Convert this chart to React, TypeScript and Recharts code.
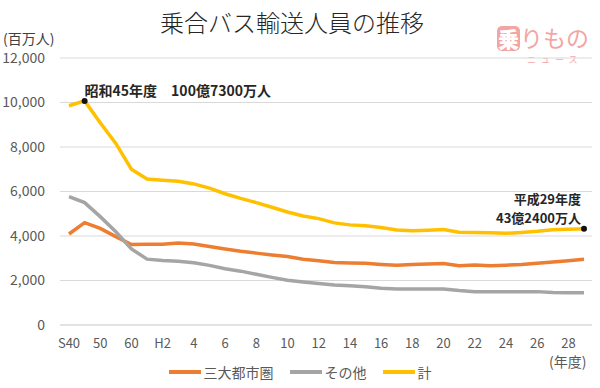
import React from "react";
import { LineChart, Line, CartesianGrid, XAxis, YAxis, Legend } from "recharts";

// 年度 (S40 .. H29)
const years = [
  "S40", "S45", "S50", "S55", "S60", "H1",
  "H2", "H3", "H4", "H5", "H6", "H7", "H8", "H9", "H10", "H11", "H12", "H13",
  "H14", "H15", "H16", "H17", "H18", "H19", "H20", "H21", "H22", "H23", "H24",
  "H25", "H26", "H27", "H28", "H29",
];
const tickLabels = [
  "S40", "", "50", "", "60", "",
  "H2", "", "4", "", "6", "", "8", "", "10", "", "12", "",
  "14", "", "16", "", "18", "", "20", "", "22", "", "24",
  "", "26", "", "28", "",
];
// 百万人
const sandaiToshiken = [
  4090, 4600, 4340, 3970, 3620, 3630, 3630, 3680, 3640, 3530, 3420, 3310, 3230,
  3150, 3080, 2960, 2890, 2810, 2790, 2770, 2720, 2680, 2720, 2740, 2760, 2660,
  2700, 2660, 2690, 2720, 2770, 2830, 2890, 2950,
];
const sonota = [
  5770, 5500, 4870, 4190, 3420, 2960, 2900, 2860, 2800, 2680, 2530, 2420, 2280,
  2140, 2010, 1930, 1860, 1800, 1760, 1720, 1650, 1620, 1620, 1620, 1620, 1550,
  1500, 1500, 1500, 1500, 1500, 1460, 1450, 1450,
];
const kei = [
  9855, 10073, 9090, 8160, 7000, 6560, 6510, 6465, 6340, 6150, 5900, 5690, 5500,
  5290, 5080, 4900, 4780, 4590, 4500, 4460, 4380, 4270, 4240, 4260, 4290, 4170,
  4160, 4150, 4120, 4160, 4210, 4280, 4300, 4324,
];
const yTicks = [0, 2000, 4000, 6000, 8000, 10000, 12000];

const rows = years.map((y, i) => ({
  year: y,
  sandai: sandaiToshiken[i],
  sonota: sonota[i],
  kei: kei[i],
}));

const FONT = "'Noto Sans CJK JP', 'Noto Sans', sans-serif";
const ORANGE = "#ED7D31";
const GRAY = "#A5A5A5";
const YELLOW = "#FFC000";

const fmt = (v: number) => String(v).replace(/\B(?=(\d{3})+(?!\d))/g, ",");

const keiDot = (p: any) => {
  const { cx, cy, index } = p;
  if (index === 1) {
    return (
      <g key="d1">
        <circle cx={cx} cy={cy} r={3} fill="#111" />
        <text x={cx} y={cy - 5} fontSize={14} fontWeight="bold" fill="#262626" fontFamily={FONT}>
          昭和45年度　100億7300万人
        </text>
      </g>
    );
  }
  if (index === years.length - 1) {
    return (
      <g key="dlast">
        <circle cx={cx} cy={cy} r={3} fill="#111" />
        <text x={cx - 3} y={cy - 25} textAnchor="end" fontSize={13} fontWeight="bold" fill="#262626" fontFamily={FONT}>
          平成29年度
        </text>
        <text x={cx - 3} y={cy - 6} textAnchor="end" fontSize={13} fontWeight="bold" fill="#262626" fontFamily={FONT}>
          43億2400万人
        </text>
      </g>
    );
  }
  return <g key={"n" + index} />;
};

const legendItems = [
  { name: "三大都市圏", color: ORANGE },
  { name: "その他", color: GRAY },
  { name: "計", color: YELLOW },
];

const renderLegend = () => (
  <div style={{ display: "flex", justifyContent: "center", alignItems: "center", gap: 16, fontSize: 14, color: "#595959", fontFamily: FONT, paddingLeft: 8, paddingTop: 5 }}>
    {legendItems.map((it) => (
      <div key={it.name} style={{ display: "flex", alignItems: "center" }}>
        <span style={{ display: "inline-block", width: 32, height: 4, background: it.color, marginRight: 3 }} />
        <span>{it.name}</span>
      </div>
    ))}
  </div>
);

export default function App() {
  return (
    <div style={{ position: "relative", width: 600, height: 388, background: "#fff", fontFamily: FONT, overflow: "hidden" }}>
      <style>{"body{margin:0}"}</style>
      <div style={{ position: "absolute", left: 0, width: 584, top: 4, textAlign: "center", fontSize: 24, fontWeight: 300, color: "#262626" }}>
        乗合バス輸送人員の推移
      </div>
      <div style={{ position: "absolute", left: 3, top: 28, fontSize: 14, color: "#404040" }}>(百万人)</div>
      <div style={{ position: "absolute", left: 497, top: 26, opacity: 0.45, lineHeight: 1, whiteSpace: "nowrap", width: 100 }}>
        <span style={{ display: "inline-block", background: "#E53935", color: "#fff", fontSize: 21, fontWeight: 900, borderRadius: 5, padding: "2px 1px" }}>乗</span>
        <span style={{ color: "#E53935", fontSize: 23, verticalAlign: "top" }}>りもの</span>
        <div style={{ position: "absolute", left: 30, top: 29, fontSize: 9, letterSpacing: 5, color: "#E53935" }}>ニュース</div>
      </div>
      <div style={{ position: "absolute", left: 549, top: 351, fontSize: 14, color: "#595959", whiteSpace: "nowrap" }}>(年度)</div>
      <LineChart width={600} height={388} data={rows} margin={{ top: 58, right: 8, left: 0, bottom: 9 }}>
        <CartesianGrid vertical={false} stroke="#D9D9D9" />
        <XAxis
          dataKey="year"
          interval={0}
          tickFormatter={(_v: string, i: number) => tickLabels[i]}
          axisLine={{ stroke: "#D9D9D9" }}
          tickLine={false}
          tickSize={0}
          tickMargin={14}
          padding={{ left: 9, right: 8 }}
          height={32}
          tick={{ fill: "#595959", fontSize: 13, fontFamily: FONT }}
        />
        <YAxis
          domain={[0, 12000]}
          ticks={yTicks}
          tickFormatter={fmt}
          axisLine={false}
          tickLine={false}
          tickSize={0}
          tickMargin={15}
          width={60}
          tick={{ fill: "#595959", fontSize: 14, fontFamily: FONT }}
        />
        <Legend verticalAlign="bottom" height={22} content={renderLegend} />
        <Line dataKey="sandai" name="三大都市圏" stroke={ORANGE} strokeWidth={3.5} dot={false} isAnimationActive={false} />
        <Line dataKey="sonota" name="その他" stroke={GRAY} strokeWidth={3.5} dot={false} isAnimationActive={false} />
        <Line dataKey="kei" name="計" stroke={YELLOW} strokeWidth={3.5} dot={keiDot} isAnimationActive={false} />
      </LineChart>
    </div>
  );
}
